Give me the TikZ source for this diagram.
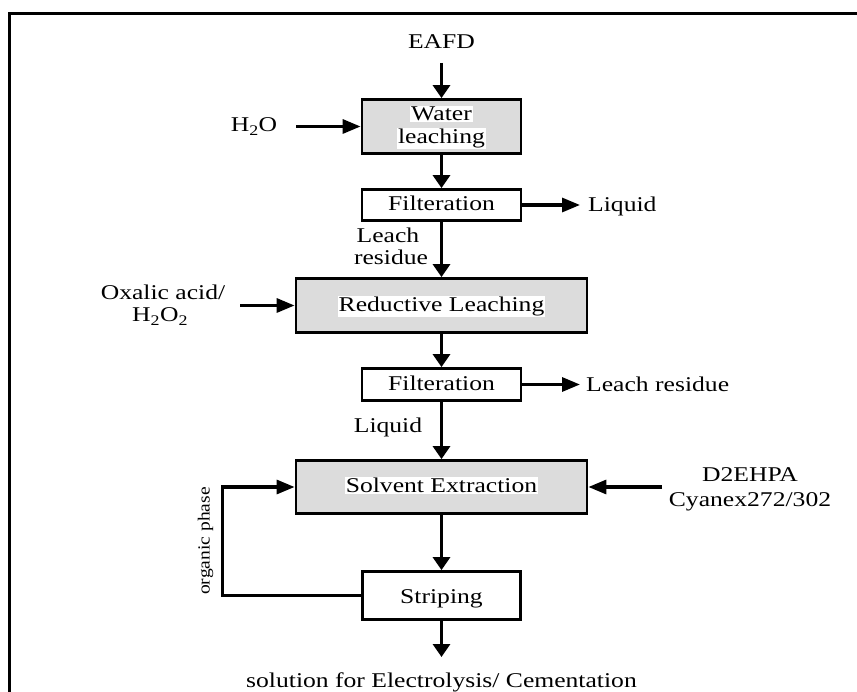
\documentclass[tikz,border=0pt]{standalone}
\usepackage{fontspec}
\setmainfont{Liberation Serif}[FakeStretch=1.22]
\newfontfamily\orgfont{Liberation Serif}[FakeStretch=1.15]
\usetikzlibrary{arrows.meta}
\definecolor{boxgray}{RGB}{220,220,220}
\begin{document}
\begin{tikzpicture}[x=1pt,y=-1pt,
  font=\fontsize{21}{25}\selectfont,
  lw/.style={line width=3.2pt},
  varr/.style={lw,-{Triangle[length=13pt,width=17pt]}},
  harr/.style={lw,-{Triangle[length=18pt,width=14pt]}},
  procbox/.style={draw,line width=2.8pt,inner sep=0pt},
  greybox/.style={procbox,fill=boxgray},
  lbl/.style={inner sep=0pt,anchor=base},
  hl/.style={lbl,fill=white,inner sep=1pt}]
\clip (0,0) rectangle (857,692);
\useasboundingbox (0,0) rectangle (857,692);
\fill[white] (0,0) rectangle (857,692);
% outer frame
\draw[line width=2.2pt] (9.5,13.5) rectangle (900,760);

% process boxes
\node[greybox,minimum width=159pt,minimum height=54pt] (wl) at (441.5,126.5) {};
\node[procbox,minimum width=159pt,minimum height=31pt] (f1) at (441.5,205) {};
\node[greybox,minimum width=291pt,minimum height=54pt] (rl) at (441.5,305.5) {};
\node[procbox,minimum width=159pt,minimum height=32pt] (f2) at (441.5,384.5) {};
\node[greybox,minimum width=291pt,minimum height=53pt] (se) at (441.5,487) {};
\node[procbox,minimum width=158pt,minimum height=48pt] (st) at (441.5,595.5) {};

% box texts
\node[hl] (twater) at (441.5,120.7) {Water};
\node[hl] (tleach) at (441.5,143.5) {leaching};
\node[lbl] (tf1) at (441.5,211) {Filteration};
\node[hl] (trl) at (441.5,311.7) {Reductive Leaching};
\node[lbl] (tf2) at (441.5,391) {Filteration};
\node[hl] (tse) at (441.5,493) {Solvent Extraction};
\node[lbl] (tst) at (441.5,603) {Striping};

% outside labels
\node[lbl] (eafd) at (441.5,49) {EAFD};
\node[lbl] (h2o) at (254,132) {H\textsubscript{2}O};
\node[lbl,anchor=base west] (liq1) at (588,211.5) {Liquid};
\node[lbl] (lr1) at (388,242.7) {Leach};
\node[lbl] (lr2) at (391,265) {residue};
\node[lbl] (ox1) at (163,299.5) {Oxalic acid/};
\node[lbl] (ox2) at (160,322) {H\textsubscript{2}O\textsubscript{2}};
\node[lbl,anchor=base west] (lres) at (586,391.5) {Leach residue};
\node[lbl] (liq2) at (388,432) {Liquid};
\node[lbl] (d2) at (750,482) {D2EHPA};
\node[lbl] (cy) at (750,506) {Cyanex272/302};
\node[inner sep=0pt,rotate=90,font=\orgfont\fontsize{17}{20}\selectfont] (org) at (205.5,541) {organic phase};
\node[lbl] (sol) at (441.5,687) {solution for Electrolysis/ Cementation};

% free ends
\coordinate (eafdout) at (441.5,63);
\coordinate (h2oout) at (296,126.5);
\coordinate (liq1in) at (580,205);
\coordinate (oxout) at (240,305.5);
\coordinate (lresin) at (580,384.5);
\coordinate (d2out) at (662,487);
\coordinate (solin) at (441.5,657);
\coordinate (loopx) at (222.5,595.5);

% connectors
\draw[varr] (eafdout) -- (wl.north);
\draw[harr] (h2oout) -- (wl.west);
\draw[varr] (wl.south) -- (f1.north);
\draw[harr] (f1.east) -- (liq1in);
\draw[varr] (f1.south) -- (rl.north);
\draw[harr] (oxout) -- (rl.west);
\draw[varr] (rl.south) -- (f2.north);
\draw[harr] (f2.east) -- (lresin);
\draw[varr] (f2.south) -- (se.north);
\draw[harr] (d2out) -- (se.east);
\draw[varr] (se.south) -- (st.north);
\draw[varr] (st.south) -- (solin);
\draw[harr,line join=miter] (st.west) -- (loopx) |- (se.west);
\end{tikzpicture}
\end{document}
